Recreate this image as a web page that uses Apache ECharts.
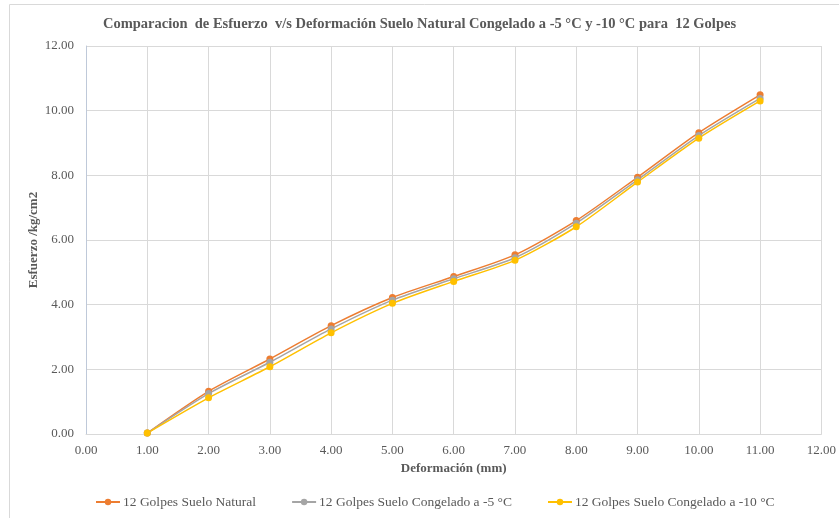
<!DOCTYPE html>
<html><head><meta charset="utf-8">
<script src="https://cdn.jsdelivr.net/npm/echarts@6/dist/echarts.min.js"></script>
<style>html,body{margin:0;padding:0;background:#fff}#c{width:839px;height:518px}</style>
</head><body><div id="c"></div>
<script>
const deformacion = [1, 2, 3, 4, 5, 6, 7, 8, 9, 10, 11];
const sueloNatural = [0.03, 1.32, 2.32, 3.35, 4.22, 4.87, 5.54, 6.60, 7.94, 9.32, 10.49];
const congelado5 = [0.03, 1.25, 2.22, 3.25, 4.14, 4.80, 5.45, 6.52, 7.86, 9.23, 10.38];
const congelado10 = [0.03, 1.12, 2.08, 3.13, 4.04, 4.72, 5.37, 6.41, 7.79, 9.15, 10.30];
const seriesNames = ['12 Golpes Suelo Natural', '12 Golpes Suelo Congelado a -5 °C', '12 Golpes Suelo Congelado a -10 °C'];
const colors = ['#ED7D31', '#A5A5A5', '#FFC000'];

const font = '"Liberation Serif","DejaVu Serif",serif';
const chart = echarts.init(document.getElementById('c'));
const mk = (name, ys, color) => ({
  name, type: 'line', smooth: 0.25,
  data: deformacion.map((x, i) => [x, ys[i]]),
  symbol: 'circle', symbolSize: 7,
  lineStyle: { color, width: 1.5 },
  itemStyle: { color },
  z: 3
});
chart.setOption({
  animation: false,
  title: {
    text: 'Comparacion  de Esfuerzo  v/s Deformación Suelo Natural Congelado a -5 °C y -10 °C para  12 Golpes',
    left: 'center', top: 12,
    textStyle: { fontFamily: font, fontSize: 14.5, fontWeight: 'bold', color: '#595959' }
  },
  graphic: [{ type: 'rect', shape: { x: 9.5, y: 4.5, width: 840, height: 520 }, style: { fill: 'none', stroke: '#D9D9D9', lineWidth: 1 }, silent: true }],
  grid: { left: 86, right: 15, top: 46, bottom: 84 },
  legend: {
    bottom: 9, left: 95, padding: 0, itemGap: 35, itemWidth: 24, itemHeight: 8,
    data: seriesNames,
    textStyle: { fontFamily: font, fontSize: 13.5, color: '#595959', padding: [0, 0, 0, -2] }
  },
  xAxis: {
    type: 'value', min: 0, max: 12, interval: 1,
    name: 'Deformación (mm)', nameLocation: 'middle', nameGap: 26,
    nameTextStyle: { fontFamily: font, fontSize: 13, fontWeight: 'bold', color: '#595959' },
    axisLine: { lineStyle: { color: '#D9D9D9' } },
    axisTick: { show: false },
    axisLabel: { fontFamily: font, fontSize: 13, color: '#595959', formatter: v => v.toFixed(2), margin: 10 },
    splitLine: { lineStyle: { color: '#D9D9D9' } }
  },
  yAxis: {
    type: 'value', min: 0, max: 12, interval: 2,
    name: 'Esfuerzo /kg/cm2', nameLocation: 'middle', nameGap: 46, nameMoveOverlap: false,
    nameTextStyle: { fontFamily: font, fontSize: 13, fontWeight: 'bold', color: '#595959' },
    axisLine: { show: true, lineStyle: { color: '#BFC9D9' } },
    axisTick: { show: false },
    axisLabel: { fontFamily: font, fontSize: 13, color: '#595959', formatter: v => v.toFixed(2), margin: 12 },
    splitLine: { lineStyle: { color: '#D9D9D9' } }
  },
  series: [
    mk(seriesNames[0], sueloNatural, colors[0]),
    mk(seriesNames[1], congelado5, colors[1]),
    mk(seriesNames[2], congelado10, colors[2])
  ]
});
</script></body></html>
